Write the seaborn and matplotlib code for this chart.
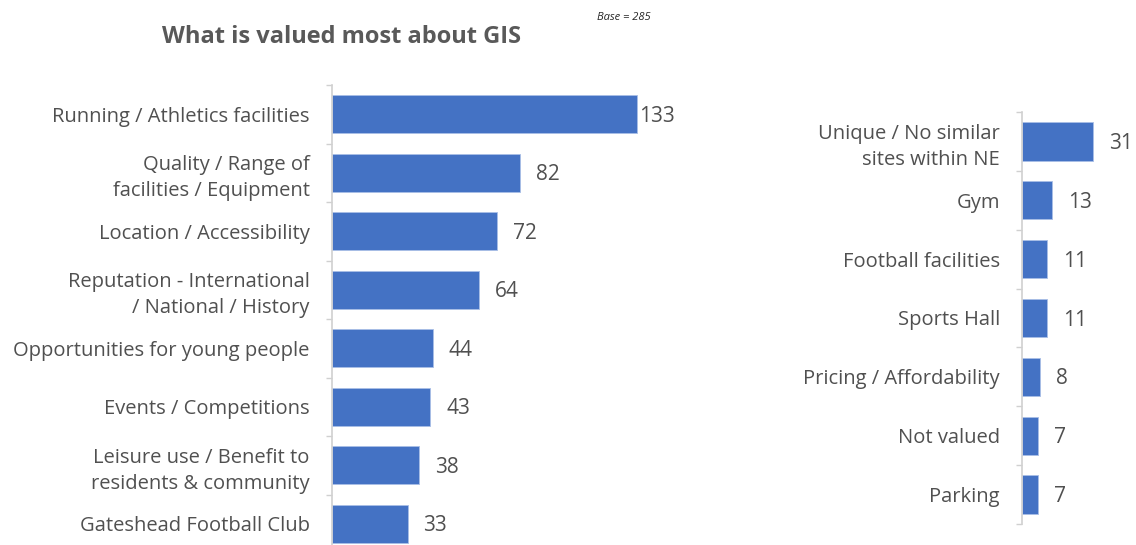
import matplotlib
matplotlib.use("Agg")
import matplotlib.pyplot as plt
import seaborn as sns
import pandas as pd
import numpy as np
from matplotlib.ticker import FixedLocator, NullFormatter

left_categories = [
    "Running / Athletics facilities",
    "Quality / Range of\nfacilities / Equipment",
    "Location / Accessibility",
    "Reputation - International\n/ National / History",
    "Opportunities for young people",
    "Events / Competitions",
    "Leisure use / Benefit to\nresidents & community",
    "Gateshead Football Club",
]
left_values = [133, 82, 72, 64, 44, 43, 38, 33]

right_categories = [
    "Unique / No similar\nsites within NE",
    "Gym",
    "Football facilities",
    "Sports Hall",
    "Pricing / Affordability",
    "Not valued",
    "Parking",
]
right_values = [31, 13, 11, 11, 8, 7, 7]

title = "What is valued most about GIS"
base_note = "Base = 285"

sns.set_theme(style="white")
plt.rcParams["font.family"] = ["Open Sans", "DejaVu Sans"]

W, H = 1136, 545
fig = plt.figure(figsize=(W / 100, H / 100), dpi=100)

BAR = "#4472C4"
TXT = "#505050"
SPINE = "#d0d0d0"
PX_PER_UNIT = 2.29


def panel(rect, cats, vals, xmax, tight_max=False):
    ax = fig.add_axes(rect)
    df = pd.DataFrame({"cat": cats, "val": vals})
    sns.barplot(data=df, y="cat", x="val", orient="h", color=BAR, ax=ax,
                width=0.65, edgecolor="#a9bfe6", linewidth=0.6, saturation=1)
    ax.set_xlim(0, xmax)
    ax.set_ylim(len(cats) - 0.5, -0.5)
    ax.set_xlabel("")
    ax.set_ylabel("")
    ax.set_xticks([])
    for s in ["top", "right", "bottom"]:
        ax.spines[s].set_visible(False)
    ax.spines["left"].set_color(SPINE)
    ax.spines["left"].set_linewidth(1.2)
    ax.tick_params(axis="y", which="major", length=0, pad=16, labelsize=14.5,
                   labelcolor=TXT)
    ax.yaxis.set_minor_locator(FixedLocator(np.arange(-0.5, len(cats), 1.0)))
    ax.yaxis.set_minor_formatter(NullFormatter())
    ax.tick_params(axis="y", which="minor", length=4, width=1.0, color=SPINE,
                   left=True)
    for lbl in ax.get_yticklabels():
        lbl.set_horizontalalignment("right")
        lbl.set_multialignment("right")
        lbl.set_linespacing(1.4)
    vmax = max(vals)
    for i, v in enumerate(vals):
        off = 2 if (tight_max and v == vmax) else 11.5
        ax.annotate(str(v), (v, i), xytext=(off, -1.5), textcoords="offset points",
                    va="center", ha="left", fontsize=15, color=TXT)
    return ax


# left panel
lx0, ly_top, ly_bot = 332, 85, 553
lxmax = 150
panel([lx0 / W, (H - ly_bot) / H, lxmax * PX_PER_UNIT / W, (ly_bot - ly_top) / H],
      left_categories, left_values, lxmax, tight_max=True)

# right panel
rx0, ry_top, ry_bot = 1022, 112, 524
rxmax = 35
panel([rx0 / W, (H - ry_bot) / H, rxmax * PX_PER_UNIT / W, (ry_bot - ry_top) / H],
      right_categories, right_values, rxmax)

fig.text(341 / W, 1 - 37 / H, title, ha="center", va="center", fontsize=17,
         fontweight="bold", color="#595959")
fig.text(624 / W, 1 - 17 / H, base_note, ha="center", va="center", fontsize=8,
         fontstyle="italic", color="#262626")

fig.savefig("out.png", dpi=100)
